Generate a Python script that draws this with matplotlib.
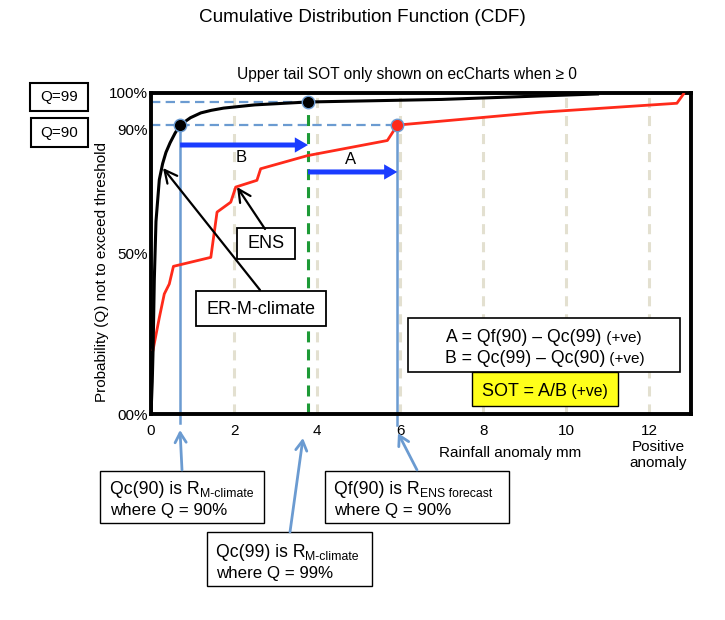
import matplotlib
matplotlib.use("Agg")
import matplotlib.pyplot as plt
from matplotlib.patches import Rectangle, FancyArrowPatch
from matplotlib.transforms import Affine2D

plt.rcParams['font.family'] = ['Liberation Sans', 'DejaVu Sans']

# ---------------- data ----------------
clim_x = [0.0, 0.03, 0.05, 0.08, 0.12, 0.2, 0.28, 0.36, 0.46, 0.58, 0.70, 0.95, 1.2, 1.45, 1.75, 2.5, 3.78, 7.0, 10.75]
clim_q = [0, 10, 20, 42, 60, 73, 78, 81.5, 84.5, 87.5, 90, 92.3, 93.8, 94.6, 95.3, 96.3, 97.2, 98.0, 99.7]

ens_x = [0.05, 0.2, 0.32, 0.44, 0.54, 1.44, 1.59, 1.92, 2.04, 2.55, 2.64, 3.77, 5.69, 5.93, 9.38, 12.66, 12.82]
ens_q = [20, 30, 37.4, 40.5, 46, 48.8, 62.9, 66, 70.7, 72.8, 76.4, 80.5, 85.2, 90, 94.0, 96.8, 99.7]

qc90 = 0.70      # climate value at Q=90
qc99 = 3.78      # climate value at Q=99
qf90 = 5.93      # forecast value at Q=90
q90_level = 90
q99_level = 97.2  # drawn level of the Q=99 line in the picture

x_ticks = [0, 2, 4, 6, 8, 10, 12]
x_tick_labels = ['0', '2', '4', '6', '8', '10', '12']
y_ticks = [0, 50, 88.5, 100]
y_tick_labels = ['00%', '50%', '90%', '100%']
grid_x = [2, 4, 6, 8, 10, 12]

arrow_B_level = 83.8
arrow_A_level = 75.4

# ---------------- figure ----------------
W, H = 725, 620
fig = plt.figure(figsize=(W / 100, H / 100), dpi=100)
PX = Affine2D().scale(1 / W, -1 / H).translate(0, 1) + fig.transFigure

ax = fig.add_axes([151 / W, 1 - 414 / H, (691 - 151) / W, (414 - 93) / H])
ax.set_xlim(0, 13)
ax.set_ylim(0, 100)

for g in grid_x:
    ax.axvline(g, color='#e3e0d0', lw=2.2, ls=(0, (3.3, 2.6)), zorder=0)

blue_l = '#6b9bd1'
ax.axvline(qc99, color='#1d9a36', lw=2.2, ls=(0, (3.6, 2.3)), zorder=2)

ax.plot([0, qf90], [q90_level, q90_level], color=blue_l, lw=1.6, ls=(0, (4.2, 2.4)), zorder=2)
ax.plot([0, qc99], [q99_level, q99_level], color=blue_l, lw=1.6, ls=(0, (4.2, 2.4)), zorder=2)
ax.plot([qc90, qc90], [-2.8, q90_level], color=blue_l, lw=1.8, clip_on=False, zorder=2)
ax.plot([qf90, qf90], [-3.4, q90_level], color=blue_l, lw=1.8, clip_on=False, zorder=2)

ax.plot(ens_x, ens_q, color='#ff2a1a', lw=2.0, zorder=3)
ax.plot(clim_x, clim_q, color='black', lw=2.2, zorder=4)

ax.plot([qc90], [q90_level], 'o', ms=9, color='black', mec=blue_l, mew=1, zorder=6)
ax.plot([qc99], [q99_level], 'o', ms=9, color='black', mec=blue_l, mew=1, zorder=6)
ax.plot([qf90], [q90_level], 'o', ms=9, color='#ff2a1a', mec=blue_l, mew=1, zorder=6)

big_blue = '#1a3cff'
for (x0, x1, yv) in [(qc90, qc99, arrow_B_level), (qc99, qf90, arrow_A_level)]:
    ax.annotate('', xy=(x1, yv), xytext=(x0, yv),
                arrowprops=dict(arrowstyle='simple,head_length=0.95,head_width=1.1,tail_width=0.36',
                                color=big_blue, lw=0, shrinkA=0, shrinkB=0, mutation_scale=10),
                zorder=5)

ax.text(2.17, 80, 'B', fontsize=12, ha='center', va='center')
ax.text(4.8, 79.4, 'A', fontsize=12, ha='center', va='center')

ax.set_xticks(x_ticks)
ax.set_xticklabels(x_tick_labels, fontsize=11)
ax.set_yticks(y_ticks)
ax.set_yticklabels(y_tick_labels, fontsize=11)
ax.tick_params(length=0)
ax.tick_params(axis='x', pad=7)
ax.tick_params(axis='y', pad=2)
for s in ax.spines.values():
    s.set_linewidth(2.8)

# ---------------- figure-level texts ----------------
fig.text(362, 18, 'Cumulative Distribution Function (CDF)', transform=PX,
         fontsize=13.6, ha='center', va='center')
fig.text(407, 75, 'Upper tail SOT only shown on ecCharts when \u2265 0', transform=PX,
         fontsize=11.2, ha='center', va='center')
fig.text(102, 272, 'Probability (Q) not to exceed threshold', transform=PX,
         fontsize=11, ha='center', va='center', rotation=90)
fig.text(510, 453, 'Rainfall anomaly mm', transform=PX, fontsize=11, ha='center', va='center')
fig.text(658, 455, 'Positive\nanomaly', transform=PX, fontsize=11, ha='center', va='center',
         linespacing=1.15)


def box(x0, y0, x1, y1, lw=1.2, fc='white', z=5):
    fig.add_artist(Rectangle((x0, y0), x1 - x0, y1 - y0, transform=PX, fc=fc, ec='black',
                             lw=lw, zorder=z))


def arrow(p0, p1, color, lw, style):
    fig.add_artist(FancyArrowPatch(p0, p1, transform=PX, arrowstyle=style, color=color,
                                   lw=lw, shrinkA=0, shrinkB=0, mutation_scale=10, zorder=6))


renderer = fig.canvas.get_renderer()


def runs(x, y, parts, ha='left'):
    """parts: list of (text, size, dy_px). y = baseline in image px."""
    objs = []
    widths = []
    for s, fs, dy in parts:
        t = fig.text(0, 0, s, fontsize=fs, transform=PX, ha='left', va='baseline', zorder=7)
        objs.append((t, dy))
        widths.append(t.get_window_extent(renderer).width)
    total = sum(widths)
    cx = x - total / 2 if ha == 'center' else x
    for (t, dy), w in zip(objs, widths):
        t.set_position((cx, y + dy))
        cx += w


# Q boxes
box(30, 83, 88, 111, lw=1.5)
fig.text(59, 97, 'Q=99', transform=PX, fontsize=11, ha='center', va='center', zorder=7)
box(31, 118, 88, 147, lw=1.5)
fig.text(59.5, 132.5, 'Q=90', transform=PX, fontsize=11, ha='center', va='center', zorder=7)

# ENS and ER-M-climate labels
arrow((265, 229), (237, 187), 'black', 1.6, '->,head_length=0.9,head_width=0.45')
box(237, 228, 295, 259, lw=1.3)
fig.text(266, 244, 'ENS', transform=PX, fontsize=13, ha='center', va='center', zorder=7)
arrow((260, 290), (163, 168), 'black', 1.6, '->,head_length=0.9,head_width=0.45')
box(196, 291, 326, 326, lw=1.3)
fig.text(261, 309, 'ER-M-climate', transform=PX, fontsize=13, ha='center', va='center', zorder=7)

# formula boxes
box(408, 318, 680, 372, lw=1.2)
runs(544, 342, [('A = Qf(90) \u2013 Qc(99)', 12.7, 0), (' (+ve)', 11, 0)], ha='center')
runs(545, 363, [('B = Qc(99) \u2013 Qc(90)', 12.7, 0), (' (+ve)', 11, 0)], ha='center')
box(472, 372, 618, 406, lw=1.0, fc='#ffff1a')
runs(545, 396, [('SOT = A/B', 13, 0), (' (+ve)', 11.3, 0)], ha='center')

# bottom boxes and arrows
arrow((182, 470), (180, 430), blue_l, 2.0, '->,head_length=0.7,head_width=0.4')
arrow((290, 532), (303, 438), blue_l, 2.0, '->,head_length=0.7,head_width=0.4')
arrow((417, 470), (398, 433), blue_l, 2.0, '->,head_length=0.7,head_width=0.4')

box(100, 471, 264, 523, lw=1.0)
runs(110, 494, [('Qc(90) is R', 12.7, 0), ('M-climate', 8.8, 3)])
runs(110, 515, [('where Q = 90%', 12.2, 0)])

box(207, 532, 372, 586, lw=1.0)
runs(216, 557, [('Qc(99) is R', 12.7, 0), ('M-climate', 8.8, 3)])
runs(216, 578, [('where Q = 99%', 12.2, 0)])

box(325, 471, 509, 523, lw=1.0)
runs(334, 494, [('Qf(90) is R', 12.7, 0), ('ENS forecast', 8.8, 3)])
runs(334, 515, [('where Q = 90%', 12.2, 0)])

fig.savefig('out.png', dpi=100)
